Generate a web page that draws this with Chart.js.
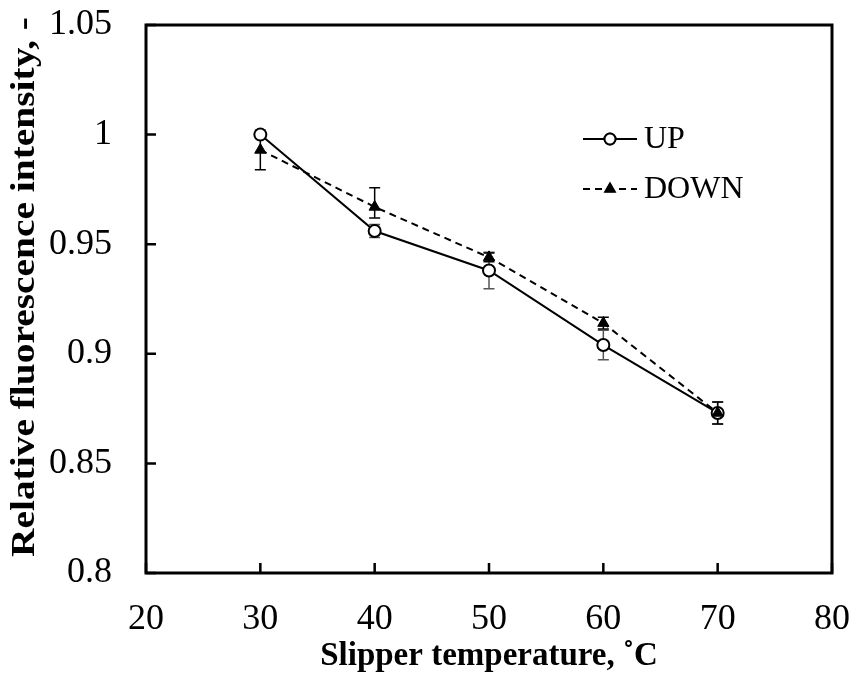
<!DOCTYPE html>
<html>
<head>
<meta charset="utf-8">
<script src="https://cdn.jsdelivr.net/npm/chart.js@4.4.1/dist/chart.umd.min.js"></script>
<style>
  html, body { margin: 0; padding: 0; background: #ffffff; }
  #wrap { width: 856px; height: 686px; }
</style>
</head>
<body>
<div id="wrap"><canvas id="c" width="856" height="686"></canvas></div>
<script>
// ---- data ----
const temperatures = [30, 40, 50, 60, 70];
const upValues     = [1.000, 0.956, 0.938, 0.904, 0.873];
const upErrors     = [0.000, 0.003, 0.0083, 0.0067, 0.005];
const downValues   = [0.993, 0.967, 0.944, 0.914, 0.873];
const downErrPlus  = [0.009, 0.0087, 0.002, 0.0027, 0.005];
const downErrMinus = [0.009, 0.005, 0.002, 0.0027, 0.005];
const xTicks = [20, 30, 40, 50, 60, 70, 80];
const yTicks = [0.8, 0.85, 0.9, 0.95, 1, 1.05];
const seriesLabels = ['UP', 'DOWN'];
const xTitle = 'Slipper temperature, ˚C';
const yTitle = 'Relative fluorescence intensity, -';

const FONT = "'Liberation Serif', 'Times New Roman', serif";
const PAD = { left: 0, right: 24, top: 25, bottom: 0 };
const AREA_LEFT = 146, AREA_BOTTOM = 573;

const toPoints = (ys) => temperatures.map((t, i) => ({ x: t, y: ys[i] }));

// error bars, drawn beneath markers
const errorBarPlugin = {
  id: 'errorBars',
  beforeDatasetsDraw(chart) {
    const ctx = chart.ctx;
    const ys = chart.scales.y;
    chart.data.datasets.forEach((ds, di) => {
      const meta = chart.getDatasetMeta(di);
      ctx.save();
      ctx.strokeStyle = ds.errColor;
      ctx.lineWidth = 1.5;
      meta.data.forEach((pt, i) => {
        const v = ds.data[i].y;
        const plus = ds.errPlus[i], minus = ds.errMinus[i];
        if (!plus && !minus) return;
        const yTop = ys.getPixelForValue(v + plus);
        const yBot = ys.getPixelForValue(v - minus);
        const x = pt.x, cap = 5.5;
        ctx.beginPath();
        ctx.moveTo(x, yTop); ctx.lineTo(x, yBot);
        ctx.moveTo(x - cap, yTop); ctx.lineTo(x + cap, yTop);
        ctx.moveTo(x - cap, yBot); ctx.lineTo(x + cap, yBot);
        ctx.stroke();
      });
      ctx.restore();
    });
  }
};

// box frame + inward ticks + stretched y title
const framePlugin = {
  id: 'frame',
  afterDraw(chart) {
    const { ctx, chartArea: a, scales } = chart;
    ctx.save();
    ctx.strokeStyle = '#000';
    ctx.lineWidth = 2.5;
    ctx.beginPath();
    scales.x.ticks.forEach(t => {
      const x = scales.x.getPixelForValue(t.value);
      ctx.moveTo(x, a.bottom); ctx.lineTo(x, a.bottom - 10);
    });
    scales.y.ticks.forEach(t => {
      const y = scales.y.getPixelForValue(t.value);
      ctx.moveTo(a.left, y); ctx.lineTo(a.left + 10, y);
    });
    ctx.stroke();
    ctx.lineWidth = 3;
    ctx.strokeRect(a.left, a.top, a.right - a.left, a.bottom - a.top);
    ctx.restore();

    // y-axis title (rotated, slightly elongated as in the reference)
    ctx.save();
    ctx.font = "bold 33px " + FONT;
    ctx.fillStyle = '#000';
    ctx.textAlign = 'center';
    ctx.textBaseline = 'alphabetic';
    const w = ctx.measureText(yTitle).width;
    const targetLen = 540;
    ctx.translate(34, 287);
    ctx.rotate(-Math.PI / 2);
    ctx.scale(targetLen / w, 1);
    ctx.fillText(yTitle, 0, 0);
    ctx.restore();
  }
};

// legend with line + marker samples
const legendPlugin = {
  id: 'customLegend',
  afterDraw(chart) {
    const ctx = chart.ctx;
    const x0 = 583, x1 = 637, rowY = [139, 189], textX = 644;
    chart.data.datasets.forEach((ds, i) => {
      const y = rowY[i];
      ctx.save();
      ctx.strokeStyle = ds.borderColor;
      ctx.lineWidth = 2;
      ctx.setLineDash(ds.borderDash || []);
      ctx.beginPath(); ctx.moveTo(x0, y); ctx.lineTo(x1, y); ctx.stroke();
      ctx.setLineDash([]);
      Chart.helpers.drawPoint(ctx, {
        pointStyle: ds.pointStyle, radius: ds.pointRadius - (i === 1 ? 1 : 0.5),
        borderWidth: ds.pointBorderWidth, rotation: 0
      }, (x0 + x1) / 2, y);
      ctx.fillStyle = ds.pointBackgroundColor;
      ctx.strokeStyle = ds.pointBorderColor;
      ctx.lineWidth = ds.pointBorderWidth;
      ctx.fill(); ctx.stroke();
      ctx.fillStyle = '#000';
      ctx.font = "32px " + FONT;
      ctx.textBaseline = 'middle';
      ctx.textAlign = 'left';
      ctx.fillText(ds.label, textX, y + 1);
      ctx.restore();
    });
  }
};

new Chart(document.getElementById('c'), {
  type: 'line',
  data: {
    datasets: [
      {
        label: seriesLabels[0],
        data: toPoints(upValues),
        errPlus: upErrors, errMinus: upErrors, errColor: '#555555',
        borderColor: '#000', borderWidth: 2, tension: 0,
        pointStyle: 'circle', pointRadius: 6, pointBorderWidth: 2,
        pointBackgroundColor: '#fff', pointBorderColor: '#000',
        order: 1
      },
      {
        label: seriesLabels[1],
        data: toPoints(downValues),
        errPlus: downErrPlus, errMinus: downErrMinus, errColor: '#000000',
        borderColor: '#000', borderWidth: 2, borderDash: [7, 5], tension: 0,
        pointStyle: 'triangle', pointRadius: 6.5, pointBorderWidth: 1,
        pointBackgroundColor: '#000', pointBorderColor: '#000',
        order: 0
      }
    ]
  },
  options: {
    responsive: false,
    animation: false,
    devicePixelRatio: 1,
    layout: { padding: PAD },
    plugins: { legend: { display: false }, tooltip: { enabled: false } },
    scales: {
      x: {
        type: 'linear', min: 20, max: 80,
        grid: { display: false, drawTicks: false },
        border: { display: false },
        afterBuildTicks: (s) => { s.ticks = xTicks.map(v => ({ value: v })); },
        afterFit: (s) => {
          s.height = 686 - AREA_BOTTOM - PAD.bottom;
          s.paddingLeft = 0; s.paddingRight = 0;
        },
        ticks: {
          color: '#000', padding: 25, maxRotation: 0, autoSkip: false,
          font: { family: FONT, size: 36 },
          callback: (v) => String(v)
        },
        title: {
          display: true, text: xTitle, color: '#000',
          font: { family: FONT, size: 33, weight: 'bold' },
          padding: { top: 0, bottom: 10 }
        }
      },
      y: {
        type: 'linear', min: 0.8, max: 1.05,
        grid: { display: false, drawTicks: false },
        border: { display: false },
        afterBuildTicks: (s) => { s.ticks = yTicks.map(v => ({ value: v })); },
        afterFit: (s) => {
          s.width = AREA_LEFT - PAD.left;
          s.paddingTop = 0; s.paddingBottom = 0;
        },
        ticks: {
          color: '#000', padding: 34, autoSkip: false,
          font: { family: FONT, size: 36 },
          callback: (v) => String(v)
        },
        title: { display: false }
      }
    }
  },
  plugins: [errorBarPlugin, framePlugin, legendPlugin]
});
</script>
</body>
</html>
